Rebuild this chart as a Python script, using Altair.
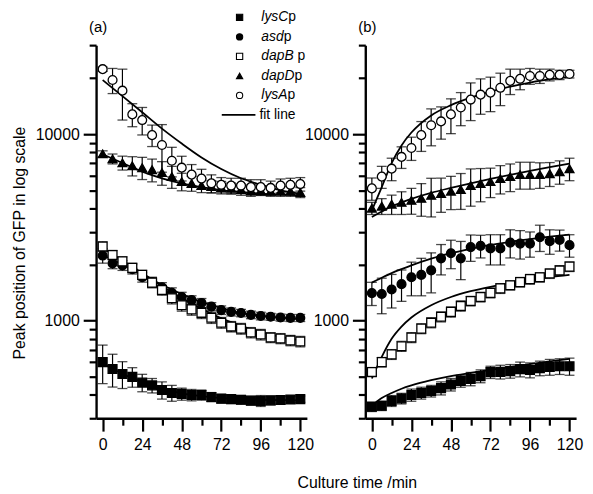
import altair as alt
import pandas as pd

FONT = "Liberation Sans"

# ---------------- data ----------------
T = [0, 6, 12, 18, 24, 30, 36, 42, 48, 54, 60, 66, 72, 78, 84, 90, 96, 102, 108, 114, 120]
SERIES = ["lysCp", "asdp", "dapBp", "dapDp", "lysAp"]
SHAPES = ["square", "circle", "square", "triangle-up", "circle"]
FILLS = ["black", "black", "white", "black", "white"]

# panel (a)
A_LYSC = [600, 551, 518, 500, 466, 450, 425, 410, 405, 400, 400, 390, 382, 380, 377, 373, 372, 374, 376, 378, 380]
A_LYSC_ERR = [140, 110, 85, 60, 50, 40, 45, 40, 30, 28, 25, 22, 20, 20, 20, 20, 25, 20, 18, 15, 15]
A_ASD = [2235, 2030, 1980, 1890, 1710, 1610, 1510, 1410, 1340, 1290, 1245, 1190, 1140, 1115, 1100, 1075, 1060, 1050, 1040, 1035, 1035]
A_ASD_ERR = [200, 130, 120, 110, 100, 100, 90, 90, 80, 70, 70, 60, 60, 55, 50, 50, 50, 45, 45, 45, 45]
A_DAPB = [2500, 2250, 2080, 1920, 1760, 1600, 1460, 1320, 1210, 1150, 1102, 1037, 976, 930, 907, 864, 843, 813, 803, 784, 774]
A_DAPB_ERR = [150, 130, 120, 110, 100, 100, 90, 90, 85, 80, 75, 70, 65, 60, 60, 55, 55, 50, 50, 50, 50]
A_DAPD = [7840, 7375, 7020, 6770, 6610, 6450, 6220, 5920, 5570, 5440, 5310, 5240, 5180, 5120, 5050, 4990, 4990, 4940, 4940, 4940, 4870]
A_DAPD_ERR = [300, 450, 600, 800, 900, 900, 900, 800, 600, 500, 450, 400, 400, 350, 350, 350, 300, 300, 300, 300, 300]
A_LYSA = [22300, 19500, 17100, 12760, 11900, 9880, 8750, 7200, 6610, 6070, 5780, 5450, 5350, 5300, 5300, 5200, 5200, 5150, 5300, 5350, 5400]
A_LYSA_ERR = [600, 3000, 5200, 1800, 2000, 1300, 2500, 1300, 1000, 800, 700, 600, 500, 500, 500, 500, 500, 450, 450, 450, 450]

# panel (b)
B_LYSC = [346, 350, 372, 383, 400, 410, 420, 435, 455, 475, 488, 505, 530, 532, 537, 550, 544, 557, 565, 570, 570]
B_LYSC_ERR = [20, 20, 25, 25, 30, 30, 30, 35, 35, 35, 40, 40, 40, 45, 45, 50, 50, 50, 55, 55, 60]
B_ASD = [1406, 1390, 1470, 1570, 1710, 1760, 1860, 2160, 2300, 2160, 2480, 2520, 2440, 2440, 2620, 2590, 2590, 2800, 2670, 2710, 2540]
B_ASD_ERR = [200, 300, 300, 300, 350, 400, 450, 400, 400, 500, 400, 350, 450, 450, 450, 450, 400, 450, 400, 350, 350]
B_DAPB = [531, 600, 660, 730, 813, 907, 976, 1050, 1115, 1200, 1275, 1340, 1410, 1490, 1550, 1610, 1670, 1710, 1790, 1860, 1950]
B_DAPB_ERR = [30, 35, 40, 45, 50, 55, 60, 65, 70, 75, 75, 80, 85, 90, 90, 95, 100, 100, 105, 110, 115]
B_DAPD = [4010, 4110, 4210, 4310, 4420, 4530, 4700, 4810, 4940, 5050, 5310, 5440, 5570, 5780, 5920, 6070, 6070, 6070, 6140, 6290, 6530]
B_DAPD_ERR = [300, 400, 500, 600, 700, 900, 1100, 1000, 1000, 1100, 1200, 1100, 1000, 1000, 1000, 1000, 1000, 950, 900, 900, 900]
B_LYSA = [5120, 5920, 6530, 7550, 8430, 9880, 11160, 11700, 12760, 13900, 15320, 16280, 16700, 17720, 19300, 19800, 20500, 20500, 20800, 20800, 21000]
B_LYSA_ERR = [700, 800, 900, 1000, 1200, 1800, 2500, 2300, 2700, 2800, 3500, 3500, 3500, 3500, 3000, 2500, 2000, 1800, 1500, 1200, 1000]

# fit lines
FIT_T_A = [0, 12, 24, 36, 48, 60, 72, 84, 96, 108, 120]
FIT_A_LYSC = [590, 520, 470, 432, 408, 394, 385, 380, 377, 375, 374]
FIT_A_ASD = [2250, 2000, 1760, 1560, 1390, 1260, 1170, 1100, 1060, 1040, 1020]
FIT_A_DAPB = [2450, 2100, 1800, 1530, 1320, 1160, 1030, 940, 870, 820, 785]
FIT_A_DAPD = [7800, 7000, 6300, 5800, 5450, 5200, 5000, 4900, 4800, 4750, 4700]
FIT_A_LYSA = [19500, 16000, 13100, 10700, 8900, 7500, 6500, 5800, 5350, 5000, 4800]

FIT_T_B = [0, 6, 12, 18, 24, 36, 48, 60, 72, 84, 96, 108, 120]
FIT_B_LYSC = [350, 385, 410, 432, 450, 480, 505, 525, 545, 565, 585, 605, 625]
FIT_B_ASD = [1600, 1700, 1800, 1890, 1980, 2150, 2300, 2430, 2550, 2650, 2740, 2820, 2890]
FIT_B_DAPB = [490, 640, 800, 930, 1040, 1210, 1340, 1440, 1520, 1590, 1650, 1710, 1760]
FIT_B_DAPD = [3600, 3850, 4100, 4300, 4500, 4850, 5150, 5450, 5750, 6050, 6350, 6650, 6950]
FIT_B_LYSA = [3900, 5200, 7000, 8700, 10200, 12600, 14300, 15700, 16900, 18000, 18900, 19700, 20300]

# axes / labels
Y_TICKS = [300, 400, 500, 600, 700, 800, 900, 1000, 2000, 3000, 4000, 5000, 6000,
           7000, 8000, 9000, 10000, 20000, 30000]
X_TICKS = [0, 12, 24, 36, 48, 60, 72, 84, 96, 108, 120]
LEG_GENE = ["lysC", "asd", "dapB", "dapD", "lysA"]
LEG_SUFFIX = ["p", "p", "p", "p", "p"]
LEG_SPACE = [False, False, True, False, False]
Y_TITLE = "Peak position of GFP in log scale"
X_TITLE = "Culture time /min"


# ---------------- building ----------------
def points_frame(vals, errs):
    rows = []
    for s, vs, es in zip(SERIES, vals, errs):
        for t, v, e in zip(T, vs, es):
            rows.append({"series": s, "t": t, "v": v, "lo": v - e, "hi": v + e})
    return pd.DataFrame(rows)


def fit_frame(ts, vals):
    rows = []
    for s, vs in zip(SERIES, vals):
        for t, v in zip(ts, vs):
            rows.append({"series": s, "t": t, "v": v})
    return pd.DataFrame(rows)


pts_a = points_frame([A_LYSC, A_ASD, A_DAPB, A_DAPD, A_LYSA],
                     [A_LYSC_ERR, A_ASD_ERR, A_DAPB_ERR, A_DAPD_ERR, A_LYSA_ERR])
pts_b = points_frame([B_LYSC, B_ASD, B_DAPB, B_DAPD, B_LYSA],
                     [B_LYSC_ERR, B_ASD_ERR, B_DAPB_ERR, B_DAPD_ERR, B_LYSA_ERR])
fit_a = fit_frame(FIT_T_A, [FIT_A_LYSC, FIT_A_ASD, FIT_A_DAPB, FIT_A_DAPD, FIT_A_LYSA])
fit_b = fit_frame(FIT_T_B, [FIT_B_LYSC, FIT_B_ASD, FIT_B_DAPB, FIT_B_DAPD, FIT_B_LYSA])

W, H = 213, 377
x_scale = alt.Scale(domain=[-4, 124], nice=False, zero=False)
y_scale = alt.Scale(type="log", domain=[300, 30000], nice=False)

MAJOR_Y = "datum.value == 1000 || datum.value == 10000"


def x_axis():
    return alt.Axis(
        values=X_TICKS, title=None, grid=False,
        labelExpr="datum.value % 24 == 0 ? format(datum.value, 'd') : ''",
        tickSize={"condition": {"test": "datum.value % 24 == 0", "value": 13}, "value": 7},
        labelPadding=6, labelOverlap=False, labelFlush=False,
    )


def y_axis():
    return alt.Axis(
        values=Y_TICKS, grid=False, title=None,
        labelExpr=MAJOR_Y + " ? format(datum.value, 'd') : ''",
        tickSize={"condition": {"test": MAJOR_Y, "value": 13}, "value": 7},
        labelPadding=4, labelOverlap=False, labelFlush=False,
    )


def data_layers(pts, fits):
    base = alt.Chart(pts)
    xq = alt.X("t:Q", scale=x_scale, axis=x_axis())
    ya = y_axis()
    bars = base.mark_rule(color="black", strokeWidth=1.2).encode(
        x=xq, y=alt.Y("lo:Q", scale=y_scale, axis=ya), y2="hi:Q")
    cap_lo = base.mark_tick(orient="horizontal", color="black", size=10, thickness=1.3).encode(
        x=xq, y=alt.Y("lo:Q", scale=y_scale, axis=ya))
    cap_hi = base.mark_tick(orient="horizontal", color="black", size=10, thickness=1.3).encode(
        x=xq, y=alt.Y("hi:Q", scale=y_scale, axis=ya))
    lines = alt.Chart(fits).mark_line(color="black", strokeWidth=1.8, interpolate="monotone").encode(
        x=xq, y=alt.Y("v:Q", scale=y_scale, axis=ya), detail="series:N")
    points = base.mark_point(filled=True, opacity=1, strokeWidth=1.3, size=80).encode(
        x=xq,
        y=alt.Y("v:Q", scale=y_scale, axis=ya),
        shape=alt.Shape("series:N", scale=alt.Scale(domain=SERIES, range=SHAPES), legend=None),
        fill=alt.Fill("series:N", scale=alt.Scale(domain=SERIES, range=FILLS), legend=None),
        stroke=alt.value("black"),
    )
    return [bars, cap_lo, cap_hi, lines, points]


# simple Arial width table for legend text placement
CHAR_W = {"l": 222, "y": 500, "s": 500, "C": 722, "a": 556, "d": 556, "p": 556,
          "B": 667, "D": 722, "A": 667, " ": 278}


def text_w(s, size):
    return sum(CHAR_W.get(c, 556) for c in s) * size / 1000.0


LEG_FS = 14
ROW0, ROWSTEP = -28, 19.7
leg = pd.DataFrame({"gene": LEG_GENE, "suffix": LEG_SUFFIX, "shape": SHAPES, "fill": FILLS})
leg["py"] = [ROW0 + ROWSTEP * i for i in range(len(LEG_GENE))]
leg["sx"] = 145
leg["gx"] = 167
leg["px"] = [167 + text_w(g, LEG_FS) + (text_w(" ", LEG_FS) if sp else 0)
             for g, sp in zip(LEG_GENE, LEG_SPACE)]

lb = alt.Chart(leg)
leg_sym = lb.mark_point(filled=True, opacity=1, size=40, strokeWidth=1.1, stroke="black").encode(
    x=alt.X("sx:Q", scale=None, axis=None), y=alt.Y("py:Q", scale=None, axis=None),
    shape=alt.Shape("shape:N", scale=None), fill=alt.Fill("fill:N", scale=None))
leg_gene = lb.mark_text(align="left", baseline="middle", font=FONT, fontSize=LEG_FS,
                        fontStyle="italic", color="black").encode(
    x=alt.X("gx:Q", scale=None, axis=None), y=alt.Y("py:Q", scale=None, axis=None), text="gene:N")
leg_suf = lb.mark_text(align="left", baseline="middle", font=FONT, fontSize=LEG_FS,
                       color="black").encode(
    x=alt.X("px:Q", scale=None, axis=None), y=alt.Y("py:Q", scale=None, axis=None), text="suffix:N")
fit_row_y = ROW0 + ROWSTEP * 5
leg_line = alt.Chart(pd.DataFrame({"k": [0]})).mark_rule(color="black", strokeWidth=1.6).encode(
    x=alt.value(127), x2=alt.value(161), y=alt.value(fit_row_y))
leg_fit = alt.Chart(pd.DataFrame({"txt": ["fit line"]})).mark_text(
    align="left", baseline="middle", font=FONT, fontSize=LEG_FS, color="black").encode(
    x=alt.value(165), y=alt.value(fit_row_y), text="txt:N")


def panel_label(txt):
    return alt.Chart(pd.DataFrame({"txt": [txt]})).mark_text(
        align="center", baseline="middle", font=FONT, fontSize=15, color="black").encode(
        x=alt.value(2), y=alt.value(-18), text="txt:N")


ytitle = alt.Chart(pd.DataFrame({"txt": [Y_TITLE]})).mark_text(
    align="center", baseline="middle", font=FONT, fontSize=16, color="black", angle=270).encode(
    x=alt.value(-77), y=alt.value(200), text="txt:N")

xtitle = alt.Chart(pd.DataFrame({"txt": [X_TITLE]})).mark_text(
    align="center", baseline="middle", font=FONT, fontSize=16, color="black").encode(
    x=alt.value(-8), y=alt.value(442), text="txt:N")

panel_a = alt.layer(
    *data_layers(pts_a, fit_a),
    panel_label("(a)"), ytitle, leg_sym, leg_gene, leg_suf, leg_line, leg_fit,
).properties(width=W, height=H)

panel_b = alt.layer(
    *data_layers(pts_b, fit_b),
    panel_label("(b)"), xtitle,
).properties(width=W, height=H)

chart = alt.hconcat(panel_a, panel_b, spacing=59, bounds="flush").properties(
    padding={"left": 4, "top": 0, "right": 2, "bottom": 0},
    background="white",
).configure_view(stroke=None).configure_axis(
    domainColor="black", domainWidth=2.4, tickColor="black", tickWidth=2.2,
    labelColor="black", labelFont=FONT, labelFontSize=16,
)

chart.save("out.html", embed_options={"renderer": "svg", "actions": False})
